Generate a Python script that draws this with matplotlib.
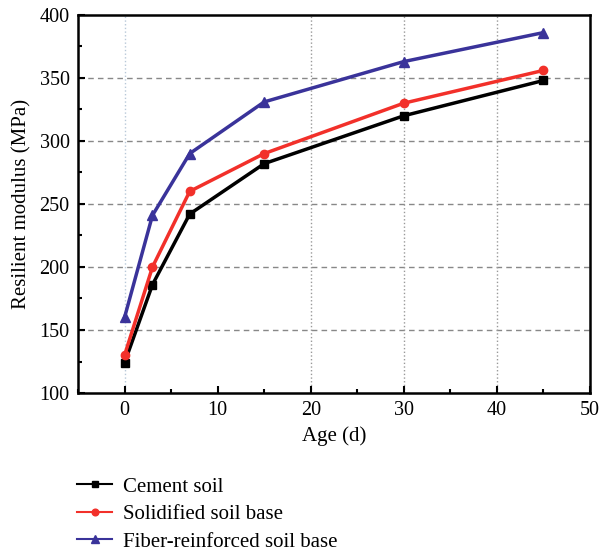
import matplotlib.pyplot as plt

age = [0, 3, 7, 15, 30, 45]
cement = [124, 186, 242, 282, 320, 348]
solidified = [130, 200, 260, 290, 330, 356]
fiber = [160, 241, 290, 331, 363, 386]

plt.rcParams['font.family'] = ['Liberation Serif', 'DejaVu Serif']

fig = plt.figure(figsize=(6.02, 5.54), dpi=100)
ax = fig.add_axes([0.1296, 0.2906, 0.8504, 0.6824])

l1, = ax.plot(age, cement, color='black', marker='s', markersize=6, lw=2.5, label='Cement soil')
l2, = ax.plot(age, solidified, color='#f2302a', marker='o', markersize=6, lw=2.5, label='Solidified soil base')
l3, = ax.plot(age, fiber, color='#3a339a', marker='^', markersize=7, lw=2.5, label='Fiber-reinforced soil base')

ax.set_xlim(-5, 50)
ax.set_ylim(100, 400)
ax.set_xticks([0, 10, 20, 30, 40, 50])
ax.set_xticks([-5, 5, 15, 25, 35, 45], minor=True)
ax.set_yticks([100, 150, 200, 250, 300, 350, 400])
ax.set_yticks([125, 175, 225, 275, 325, 375], minor=True)

for y in [150, 200, 250, 300, 350]:
    ax.axhline(y, color='#888888', ls=(0, (4, 3)), lw=1, zorder=0)
ax.axvline(0, color='#b8c8d8', ls=':', lw=1, zorder=0)
for x in [20, 30, 40]:
    ax.axvline(x, color='#999999', ls=':', lw=1, zorder=0)

for s in ax.spines.values():
    s.set_linewidth(1.8)
ax.tick_params(which='major', direction='in', length=5, width=1.5, labelsize=14.5, pad=6)
ax.tick_params(which='minor', direction='in', length=3, width=1.5)

ax.set_xlabel('Age (d)', fontsize=15, labelpad=4)
ax.set_ylabel('Resilient modulus (MPa)', fontsize=15, labelpad=6)

fig.legend(handles=[l1, l2, l3], loc='upper left', bbox_to_anchor=(0.114, 0.154),
           frameon=False, fontsize=15, handlelength=1.7, handletextpad=0.5,
           labelspacing=0.38, markerscale=0.8, borderaxespad=0)
for h in fig.legends[0].get_lines():
    h.set_linewidth(1.5)

fig.savefig('out.png', dpi=100)
